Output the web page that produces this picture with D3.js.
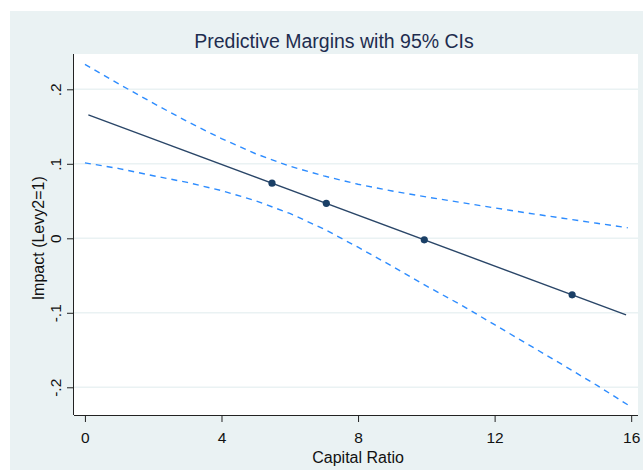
<!DOCTYPE html>
<html><head><meta charset="utf-8">
<script src="https://cdn.jsdelivr.net/npm/d3@7"></script>
<style>body{margin:0;background:#fff;}svg{display:block;}</style>
</head><body>
<script>
// ---- data ----
const ciX     = [0, 1, 2, 3, 4, 5, 6, 7, 8, 9, 10, 11, 12, 13, 14, 15, 15.9];
const ciUpper = [0.2335, 0.2070, 0.1814, 0.1567, 0.1339, 0.1135, 0.0968, 0.0837, 0.0725, 0.0635, 0.0555, 0.0482, 0.0408, 0.0337, 0.0269, 0.0202, 0.0142];
const ciLower = [0.1013, 0.0936, 0.0840, 0.0750, 0.0640, 0.0505, 0.0334, 0.0125, -0.0120, -0.0375, -0.0640, -0.0890, -0.1160, -0.1430, -0.1700, -0.1975, -0.2235];
const fitX    = [0.1, 15.85];
const fitY    = [0.1657, -0.1028];
const pointX  = [5.48, 7.07, 9.94, 14.27];
const pointY  = [0.0740, 0.0469, -0.0021, -0.0759];
const xTicks  = [0, 4, 8, 12, 16];
const yTicks  = [0.2, 0.1, 0, -0.1, -0.2];
const yTickLabels = [".2", ".1", "0", "-.1", "-.2"];
const title = "Predictive Margins with 95% CIs";
const xTitle = "Capital Ratio";
const yTitle = "Impact (Levy2=1)";

const W = 643, H = 470;
const plot = {l: 74, r: 638, t: 54, b: 415};
const bg = "#eaf2f3";
const navy = "#1a3f66";
const blue = "#2d8cff";
const font = "'Liberation Sans', Arial, sans-serif";

const svg = d3.select("body").append("svg").attr("width", W).attr("height", H);

svg.append("rect").attr("x", 10).attr("y", 11).attr("width", W - 10).attr("height", H - 11).attr("fill", bg);
svg.append("rect").attr("x", plot.l).attr("y", plot.t).attr("width", plot.r - plot.l).attr("height", plot.b - plot.t).attr("fill", "#fff");

const x = d3.scaleLinear().domain([-0.32, 16.2]).range([plot.l, plot.r]);
const y = d3.scaleLinear().domain([-0.2372, 0.2474]).range([plot.b, plot.t]);

// gridlines
svg.append("g").selectAll("line").data(yTicks).join("line")
  .attr("x1", plot.l).attr("x2", plot.r)
  .attr("y1", d => y(d)).attr("y2", d => y(d))
  .attr("stroke", bg).attr("stroke-width", 1.5);

// axes
const xAxis = svg.append("g").attr("transform", `translate(0,${plot.b})`)
  .call(d3.axisBottom(x).tickValues(xTicks).tickSize(7).tickPadding(10).tickFormat(d3.format("d")));
xAxis.select(".domain").attr("d", `M${plot.l},0.5H${plot.r}`).attr("stroke", "#222");
xAxis.selectAll(".tick line").attr("stroke", "#222");
xAxis.selectAll("text").attr("font-family", font).attr("font-size", 15.5).attr("fill", "#111");

const yAxis = svg.append("g").attr("transform", `translate(${plot.l},0)`)
  .call(d3.axisLeft(y).tickValues(yTicks).tickSize(7).tickFormat((d, i) => yTickLabels[i]));
yAxis.select(".domain").attr("d", `M-0.5,${plot.t}V${plot.b}`).attr("stroke", "#222");
yAxis.selectAll(".tick line").attr("stroke", "#222");
yAxis.selectAll("text")
  .attr("font-family", font).attr("font-size", 15.5).attr("fill", "#111")
  .attr("x", null).attr("dy", null)
  .attr("text-anchor", "middle")
  .attr("transform", "translate(-18,0) rotate(-90)")
  .attr("y", 0).attr("dy", "0.35em");

// titles
svg.append("text").attr("x", 334).attr("y", 48).attr("text-anchor", "middle")
  .attr("font-family", font).attr("font-size", 19.5).attr("fill", "#1e2d4f").text(title);
svg.append("text").attr("x", x(8)).attr("y", 463).attr("text-anchor", "middle")
  .attr("font-family", font).attr("font-size", 16).attr("fill", "#111").text(xTitle);
svg.append("text").attr("transform", `translate(43.5,${y(0)}) rotate(-90)`).attr("text-anchor", "middle")
  .attr("font-family", font).attr("font-size", 16).attr("fill", "#111").text(yTitle);

// CI lines
const line = d3.line().x(d => x(d[0])).y(d => y(d[1]));
[ciUpper, ciLower].forEach(arr => {
  svg.append("path").attr("d", line(ciX.map((v, i) => [v, arr[i]])))
    .attr("fill", "none").attr("stroke", blue).attr("stroke-width", 1.4)
    .attr("stroke-dasharray", "6,5");
});

// fitted line
svg.append("path").attr("d", line(fitX.map((v, i) => [v, fitY[i]])))
  .attr("fill", "none").attr("stroke", "#2a4668").attr("stroke-width", 1.4);

// points
svg.append("g").selectAll("circle").data(pointX).join("circle")
  .attr("cx", d => x(d)).attr("cy", (d, i) => y(pointY[i])).attr("r", 3.6).attr("fill", navy);
</script>
</body></html>
